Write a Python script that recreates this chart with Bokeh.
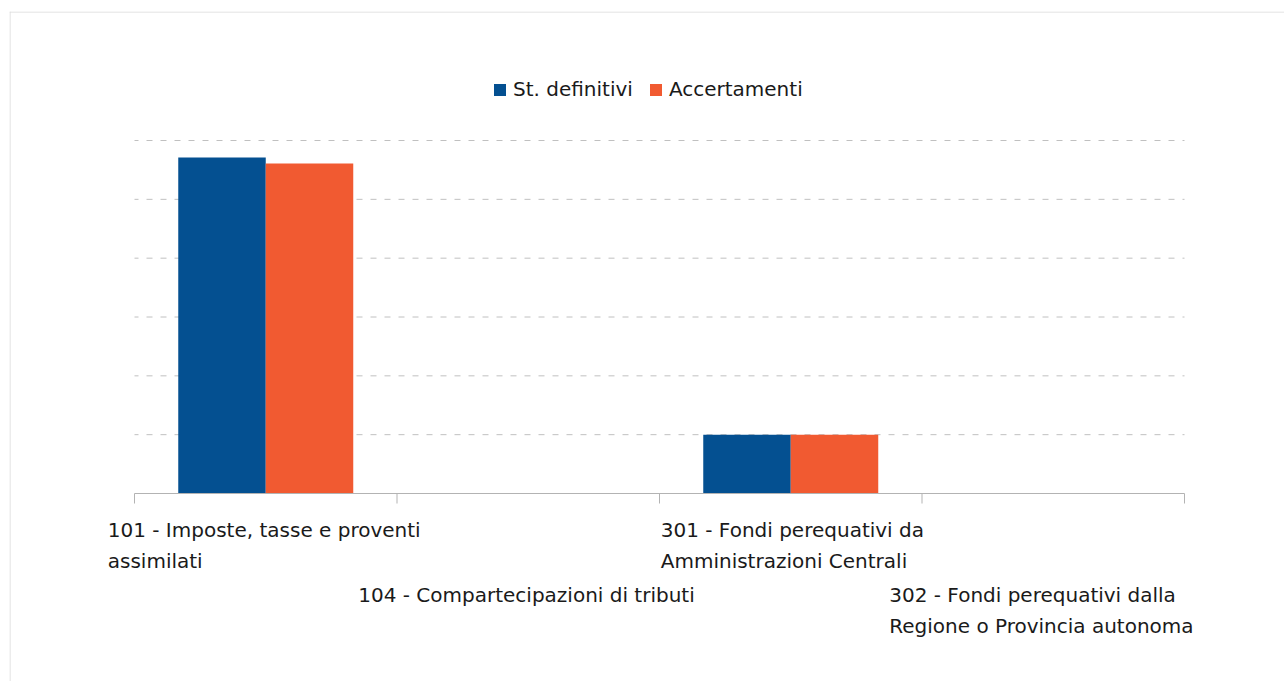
from bokeh.plotting import figure
from bokeh.models import ColumnDataSource, Range1d, Span, Legend, LegendItem
from bokeh.core.properties import value
from bokeh.embed import file_html
from bokeh.resources import INLINE

# ---- data ----
categories = [
    "101 - Imposte, tasse e proventi\nassimilati",
    "104 - Compartecipazioni di tributi",
    "301 - Fondi perequativi da\nAmministrazioni Centrali",
    "302 - Fondi perequativi dalla\nRegione o Provincia autonoma",
]
st_definitivi = [5.71, 0.0, 1.0, 0.0]
accertamenti = [5.61, 0.0, 1.0, 0.0]
grid_ticks = [1, 2, 3, 4, 5, 6]
series_names = ["St. definitivi", "Accertamenti"]

# ---- layout constants ----
FONT = "DejaVu Sans"
W, H = 1284, 681
FL, FT = 9, 11                 # frame left / top (px)
AX_L, AX_R, AX_Y = 134, 1184, 493
UNIT_PX = (AX_Y - 140) / 6.0
CAT_PX = (AX_R - AX_L) / len(categories)

x_start = -(AX_L - FL) / CAT_PX
x_end = (W - AX_L) / CAT_PX
y_end = (AX_Y - FT) / UNIT_PX
y_start = -(H - AX_Y) / UNIT_PX

p = figure(width=W, height=H, output_backend="svg", toolbar_location=None,
           x_axis_location=None, y_axis_location=None,
           x_range=Range1d(x_start, x_end), y_range=Range1d(y_start, y_end),
           min_border_left=FL, min_border_top=FT, min_border_right=0, min_border_bottom=0,
           outline_line_color=None, background_fill_color="white",
           border_fill_color="white")
p.grid.visible = False

n = len(categories)
idx = list(range(n))
bw = 1.0 / 3.0
src = ColumnDataSource(dict(
    xb=[i + 0.5 - bw / 2 for i in idx],
    xo=[i + 0.5 + bw / 2 for i in idx],
    st=st_definitivi, acc=accertamenti,
))

# dashed grid lines across the category span
p.segment(x0=[0] * len(grid_ticks), x1=[n] * len(grid_ticks), y0=grid_ticks, y1=grid_ticks,
          line_color="#c0c0c0", line_dash="6 8", line_dash_offset=2, line_width=1)

r1 = p.vbar(x="xb", top="st", bottom=0, width=bw, source=src,
            fill_color="#045091", line_color=None)
r2 = p.vbar(x="xo", top="acc", bottom=0, width=bw, source=src,
            fill_color="#f15a31", line_color=None)

# category axis line and tick marks
tick_len = 10 / UNIT_PX
p.segment(x0=[0], x1=[n], y0=[0], y1=[0], line_color="#b3b3b3", line_width=1)
p.segment(x0=list(range(n + 1)), x1=list(range(n + 1)), y0=[0] * (n + 1),
          y1=[-tick_len] * (n + 1), line_color="#b3b3b3", line_width=1)

# outer border (left / top)
p.add_layout(Span(location=x_start + 0.5 / CAT_PX, dimension="height",
                  line_color="#d9d9d9", line_width=1))
p.add_layout(Span(location=y_end - 0.5 / UNIT_PX, dimension="width",
                  line_color="#d9d9d9", line_width=1))

# staggered category labels
label_xoff = [-158, -170, -130, -164]
label_yoff = [24, 89, 24, 89]
lsrc = ColumnDataSource(dict(x=[i + 0.5 for i in idx], y=[0] * n, t=categories,
                             xo=label_xoff, yo=label_yoff))
p.text(x="x", y="y", text="t", x_offset="xo", y_offset="yo", source=lsrc,
       text_font=value(FONT), text_font_size="20px", text_color="#1a1a1a",
       text_align="left", text_baseline="top", text_line_height=1.3)

legend = Legend(items=[LegendItem(label=series_names[0], renderers=[r1]),
                       LegendItem(label=series_names[1], renderers=[r2])],
                orientation="horizontal", location=(483, 580),
                glyph_width=15, glyph_height=15, label_standoff=6, spacing=15,
                padding=0, margin=0, border_line_color=None,
                background_fill_alpha=0,
                label_text_font=FONT, label_text_font_size="20px",
                label_text_color="#1a1a1a")
p.add_layout(legend)

open("out.html", "w").write(file_html(p, INLINE))
